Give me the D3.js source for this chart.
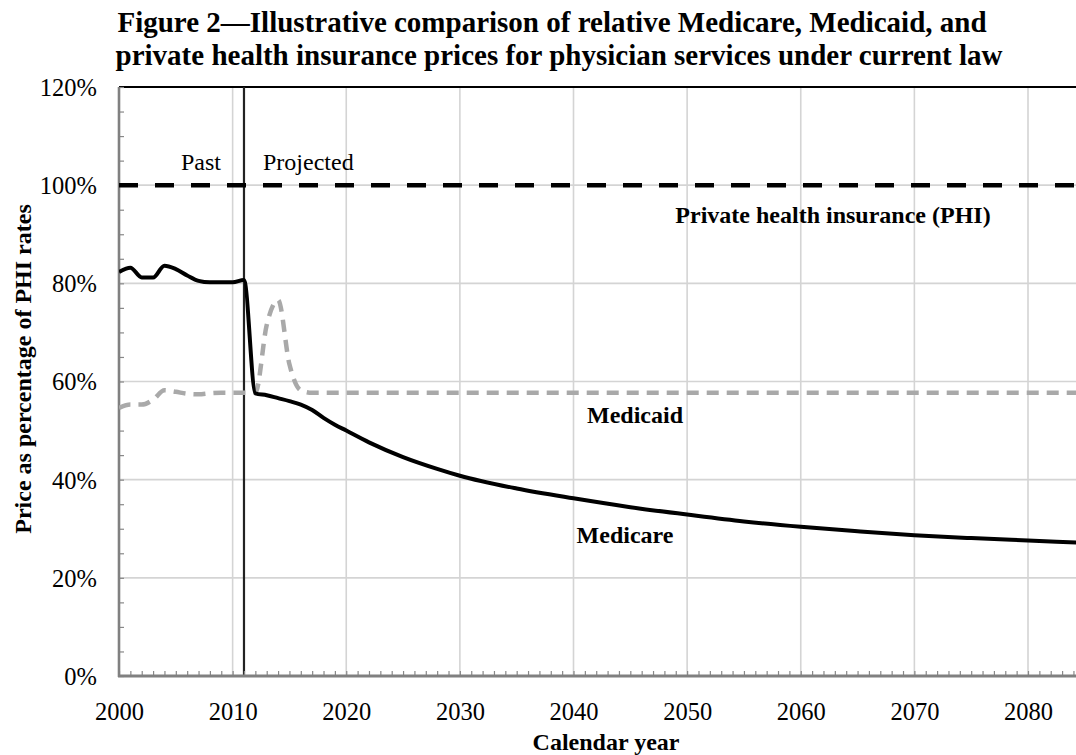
<!DOCTYPE html>
<html>
<head>
<meta charset="utf-8">
<script src="https://cdn.jsdelivr.net/npm/d3@7"></script>
<style>
  html, body { margin: 0; padding: 0; background: #fff; }
  svg { display: block; }
  text { font-family: "Liberation Serif", "Times New Roman", serif; fill: #000; }
</style>
</head>
<body>
<svg id="chart" width="1076" height="755"></svg>
<script>
// ---- Data ----
const titleLines = [
  "Figure 2\u2014Illustrative comparison of relative Medicare, Medicaid, and",
  "private health insurance prices for physician services under current law"
];
const yTicks = [0, 20, 40, 60, 80, 100, 120];
const xTicks = [2000, 2010, 2020, 2030, 2040, 2050, 2060, 2070, 2080];

const medicareYears  = [2000, 2001, 2002, 2003, 2004, 2005, 2006, 2007, 2008, 2009, 2010, 2011, 2012, 2013, 2014, 2015, 2016, 2017, 2018, 2019, 2020, 2022, 2025, 2028, 2030, 2035, 2040, 2045, 2050, 2055, 2060, 2065, 2070, 2075, 2080, 2085];
const medicareValues = [82.3, 83.2, 81.2, 81.2, 83.6, 82.9, 81.6, 80.5, 80.2, 80.2, 80.2, 80.7, 57.6, 57.2, 56.6, 56.0, 55.3, 54.2, 52.6, 51.2, 50.0, 47.6, 44.6, 42.2, 40.8, 38.2, 36.2, 34.4, 32.9, 31.5, 30.4, 29.5, 28.7, 28.1, 27.6, 27.1];

const medicaidYears  = [2000, 2001, 2002, 2003, 2004, 2005, 2006, 2007, 2008, 2009, 2010, 2011, 2012, 2013, 2014, 2015, 2016, 2017, 2030, 2050, 2085];
const medicaidValues = [54.6, 55.3, 55.3, 56.3, 58.2, 57.9, 57.5, 57.4, 57.6, 57.7, 57.7, 57.7, 57.7, 71.5, 76.6, 63.5, 58.2, 57.7, 57.7, 57.7, 57.7];

const phiYears  = [2000, 2085];
const phiValues = [100, 100];

const dividerYear = 2011;

// ---- Layout ----
const svg = d3.select("#chart");
const plotLeft = 119, plotTop = 87, plotBottom = 676, plotRight = 1076;

const x = d3.scaleLinear().domain([2000, 2080]).range([plotLeft, 1028]);
const y = d3.scaleLinear().domain([0, 120]).range([plotBottom, plotTop]);
const xEnd = x.invert(plotRight);

svg.append("defs").append("clipPath").attr("id", "clip")
  .append("rect").attr("x", plotLeft).attr("y", plotTop - 5)
  .attr("width", plotRight - plotLeft).attr("height", plotBottom - plotTop + 5);

// Title
svg.append("g").selectAll("text").data(titleLines).join("text")
  .attr("x", (d, i) => i === 0 ? 552 : 559).attr("y", (d, i) => 32 + i * 33)
  .attr("text-anchor", "middle")
  .style("font-size", "29px").style("font-weight", "bold")
  .text(d => d);

// Grid
const grid = svg.append("g");
grid.selectAll("line.v").data(xTicks.filter(t => t > 2000)).join("line")
  .attr("x1", d => x(d)).attr("x2", d => x(d))
  .attr("y1", plotTop).attr("y2", plotBottom)
  .attr("stroke", "#d4d4d4").attr("stroke-width", 1.6);
grid.selectAll("line.h").data(yTicks.filter(t => t > 0 && t < 120)).join("line")
  .attr("x1", plotLeft).attr("x2", plotRight)
  .attr("y1", d => y(d)).attr("y2", d => y(d))
  .attr("stroke", "#d4d4d4").attr("stroke-width", 1.6);

// Top border
svg.append("line").attr("x1", plotLeft).attr("x2", plotRight)
  .attr("y1", plotTop).attr("y2", plotTop)
  .attr("stroke", "#000").attr("stroke-width", 1.8);

// Divider line (past / projected)
svg.append("line").attr("x1", x(dividerYear)).attr("x2", x(dividerYear))
  .attr("y1", plotTop).attr("y2", plotBottom)
  .attr("stroke", "#222").attr("stroke-width", 2.2);

// Axes: minor ticks
const minorYears = d3.range(2000, Math.floor(xEnd) + 1);
const xMinor = svg.append("g").attr("transform", `translate(0,${plotBottom})`)
  .call(d3.axisBottom(x).tickValues(minorYears).tickSize(-5).tickSizeOuter(0).tickFormat(""));
xMinor.select(".domain").remove();
xMinor.selectAll(".tick line").attr("stroke", "#888").attr("stroke-width", 1.2);

const yMinor = svg.append("g").attr("transform", `translate(${plotLeft},0)`)
  .call(d3.axisLeft(y).tickValues(d3.range(0, 121, 5)).tickSize(-5).tickSizeOuter(0).tickFormat(""));
yMinor.select(".domain").remove();
yMinor.selectAll(".tick line").attr("stroke", "#888").attr("stroke-width", 1.2);

// Axis lines
svg.append("line").attr("x1", plotLeft).attr("x2", plotLeft)
  .attr("y1", plotTop).attr("y2", plotBottom + 1)
  .attr("stroke", "#808080").attr("stroke-width", 2.6);
svg.append("line").attr("x1", plotLeft - 1).attr("x2", plotRight)
  .attr("y1", plotBottom).attr("y2", plotBottom)
  .attr("stroke", "#808080").attr("stroke-width", 3);

// Axis labels
const xAx = svg.append("g").attr("transform", `translate(0,${plotBottom})`)
  .call(d3.axisBottom(x).tickValues(xTicks).tickSize(0).tickPadding(0).tickFormat(d3.format("d")));
xAx.select(".domain").remove();
xAx.selectAll("text").attr("y", 44).attr("dy", 0)
  .style("font-size", "24.5px").style("font-family", "Liberation Serif");

const yAx = svg.append("g").attr("transform", `translate(${plotLeft},0)`)
  .call(d3.axisLeft(y).tickValues(yTicks).tickSize(0).tickFormat(d => d + "%"));
yAx.select(".domain").remove();
yAx.selectAll("text").attr("x", -22).attr("dy", "0.34em")
  .style("font-size", "24.5px").style("font-family", "Liberation Serif");

// Axis titles
svg.append("text").attr("x", 606).attr("y", 750).attr("text-anchor", "middle")
  .style("font-size", "24px").style("font-weight", "bold").text("Calendar year");
svg.append("text").attr("transform", "translate(31,369) rotate(-90)")
  .attr("text-anchor", "middle")
  .style("font-size", "24px").style("font-weight", "bold")
  .text("Price as percentage of PHI rates");

// Lines
const plot = svg.append("g").attr("clip-path", "url(#clip)");
const line = d3.line().x(d => x(d[0])).y(d => y(d[1])).curve(d3.curveMonotoneX);

const phi = phiYears.map((yr, i) => [yr, phiValues[i]]);
const medicaid = medicaidYears.map((yr, i) => [yr, medicaidValues[i]]);
const medicare = medicareYears.map((yr, i) => [yr, medicareValues[i]]);

plot.append("path").datum(medicaid).attr("d", line)
  .attr("fill", "none").attr("stroke", "#a9a9a9").attr("stroke-width", 4.5)
  .attr("stroke-dasharray", "12,8");
plot.append("path").datum(phi).attr("d", line)
  .attr("fill", "none").attr("stroke", "#000").attr("stroke-width", 4.5)
  .attr("stroke-dasharray", "19,17");
plot.append("path").datum(medicare).attr("d", line)
  .attr("fill", "none").attr("stroke", "#000").attr("stroke-width", 4)
  .attr("stroke-linejoin", "round");

// Annotations
svg.append("text").attr("x", 201).attr("y", 170).attr("text-anchor", "middle")
  .style("font-size", "24px").text("Past");
svg.append("text").attr("x", 263).attr("y", 170).attr("text-anchor", "start")
  .style("font-size", "24px").text("Projected");
svg.append("text").attr("x", 833).attr("y", 223).attr("text-anchor", "middle")
  .style("font-size", "24px").style("font-weight", "bold").text("Private health insurance (PHI)");
svg.append("text").attr("x", 635).attr("y", 423).attr("text-anchor", "middle")
  .style("font-size", "24px").style("font-weight", "bold").text("Medicaid");
svg.append("text").attr("x", 625).attr("y", 543).attr("text-anchor", "middle")
  .style("font-size", "24px").style("font-weight", "bold").text("Medicare");
</script>
</body>
</html>
